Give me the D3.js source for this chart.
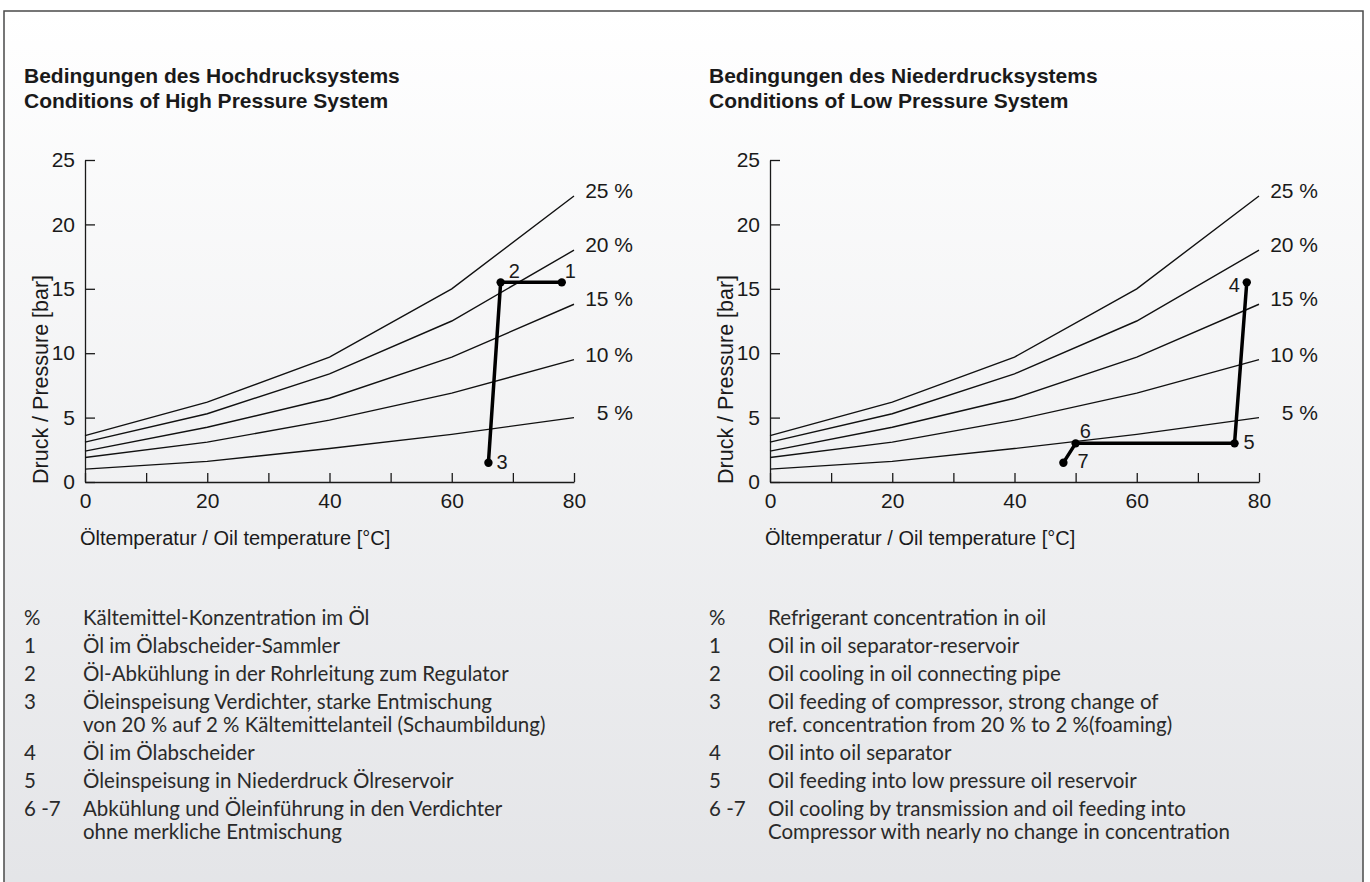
<!DOCTYPE html>
<html>
<head>
<meta charset="utf-8">
<script src="https://cdn.jsdelivr.net/npm/d3@7"></script>
<style>
    body { margin: 0; background: #ffffff; }
    svg { display: block; }
    .axis path, .axis line { stroke: #1a1a1a; stroke-width: 1.3; }
    .axis text { font-family: "Liberation Sans", Arial, sans-serif; font-size: 21px; fill: #1a1a1a; }
</style>
</head>
<body>
<div id="chart"></div>
<script>
// oil temperature steps and the refrigerant curves (bar)
var temps = [0, 20, 40, 60, 80];
var concLabels = ["5 %", "10 %", "15 %", "20 %", "25 %"];
var p05 = [1.0, 1.6, 2.6, 3.7, 5.0];
var p10 = [1.9, 3.1, 4.8, 6.9, 9.5];
var p15 = [2.4, 4.25, 6.5, 9.7, 13.8];
var p20 = [3.1, 5.3, 8.4, 12.5, 18.0];
var p25 = [3.6, 6.2, 9.7, 15.0, 22.2];

var xTicks = [0, 10, 20, 30, 40, 50, 60, 70, 80];
var yTicks = [0, 5, 10, 15, 20, 25];

// process paths
var hpIds = ["1", "2", "3"];
var hpTemp = [78, 68, 66];
var hpPress = [15.5, 15.5, 1.5];

var lpIds = ["4", "5", "6", "7"];
var lpTemp = [78, 76, 50, 48];
var lpPress = [15.5, 3.0, 3.0, 1.5];

var titlesLeft = ["Bedingungen des Hochdrucksystems", "Conditions of High Pressure System"];
var titlesRight = ["Bedingungen des Niederdrucksystems", "Conditions of Low Pressure System"];

var legendKeys = ["%", "1", "2", "3", "4", "5", "6 -7"];
var legendDe = [
    ["Kältemittel-Konzentration im Öl"],
    ["Öl im Ölabscheider-Sammler"],
    ["Öl-Abkühlung in der Rohrleitung zum Regulator"],
    ["Öleinspeisung Verdichter, starke Entmischung", "von 20 % auf 2 % Kältemittelanteil (Schaumbildung)"],
    ["Öl im Ölabscheider"],
    ["Öleinspeisung in Niederdruck Ölreservoir"],
    ["Abkühlung und Öleinführung in den Verdichter", "ohne merkliche Entmischung"]
];
var legendEn = [
    ["Refrigerant concentration in oil"],
    ["Oil in oil separator-reservoir"],
    ["Oil cooling in oil connecting pipe"],
    ["Oil feeding of compressor, strong change of", "ref. concentration from 20 % to 2 %(foaming)"],
    ["Oil into oil separator"],
    ["Oil feeding into low pressure oil reservoir"],
    ["Oil cooling by transmission and oil feeding into", "Compressor with nearly no change in concentration"]
];

var xTitle = "Öltemperatur / Oil temperature [°C]";
var yTitle = "Druck / Pressure [bar]";

var op = op || {};

op.init = function () {
    var svg = d3.select("#chart").append("svg")
        .attr("width", 1370)
        .attr("height", 882);

    var grad = svg.append("defs").append("linearGradient")
        .attr("id", "bg")
        .attr("x1", 0).attr("y1", 0).attr("x2", 0).attr("y2", 1);
    grad.append("stop").attr("offset", "0%").attr("stop-color", "#ffffff");
    grad.append("stop").attr("offset", "100%").attr("stop-color", "#e3e4e7");

    svg.append("rect")
        .attr("x", 4).attr("y", 11)
        .attr("width", 1359).attr("height", 900)
        .attr("fill", "url(#bg)")
        .attr("stroke", "#4a4a4a")
        .attr("stroke-width", 1.5);

    op.drawPanel(svg, 0, titlesLeft, hpIds, hpTemp, hpPress, legendDe);
    op.drawPanel(svg, 685, titlesRight, lpIds, lpTemp, lpPress, legendEn);
};

op.drawPanel = function (svg, dx, titles, ids, pt, pp, legend) {
    var g = svg.append("g").attr("transform", "translate(" + dx + ",0)");

    // two-line title as one text block
    g.append("text")
        .attr("class", "title")
        .attr("y", 83)
        .style("font-family", "'Liberation Sans', Arial, sans-serif")
        .style("font-weight", "bold")
        .style("font-size", "21px")
        .style("fill", "#1a1a1a")
        .selectAll("tspan")
        .data(titles)
        .enter()
        .append("tspan")
        .attr("x", 24)
        .attr("dy", function (d, i) { return i === 0 ? 0 : 24.5; })
        .text(function (d) { return d; });

    var x = d3.scaleLinear().domain([0, 80]).range([85, 574]);
    var y = d3.scaleLinear().domain([0, 25]).range([482, 160]);

    var xAxis = d3.axisBottom(x)
        .tickValues(xTicks)
        .tickSizeInner(-9)
        .tickSizeOuter(0)
        .tickPadding(11)
        .tickFormat(function (d) { return d % 20 === 0 ? d : ""; });

    var yAxis = d3.axisLeft(y)
        .tickValues(yTicks)
        .tickSizeInner(-10)
        .tickSizeOuter(0)
        .tickPadding(10);

    g.append("g")
        .attr("class", "axis")
        .attr("transform", "translate(0," + y(0) + ")")
        .call(xAxis);

    g.append("g")
        .attr("class", "axis")
        .attr("transform", "translate(" + x(0) + ",0)")
        .call(yAxis);

    g.append("text")
        .attr("x", 80)
        .attr("y", 545)
        .style("font-family", "'Liberation Sans', Arial, sans-serif")
        .style("font-size", "20px")
        .style("fill", "#1a1a1a")
        .text(xTitle);

    g.append("text")
        .attr("transform", "translate(48,484) rotate(-90)")
        .style("font-family", "'Liberation Sans', Arial, sans-serif")
        .style("font-size", "21.5px")
        .style("fill", "#1a1a1a")
        .text(yTitle);

    // concentration curves
    var curves = [p05, p10, p15, p20, p25];
    var line = d3.line()
        .x(function (d, i) { return x(temps[i]); })
        .y(function (d) { return y(d); });

    g.selectAll(".curve")
        .data(curves)
        .enter()
        .append("path")
        .attr("class", "curve")
        .attr("d", line)
        .attr("fill", "none")
        .attr("stroke", "#111")
        .attr("stroke-width", 1.4);

    g.selectAll(".curve-label")
        .data(curves)
        .enter()
        .append("text")
        .attr("class", "curve-label")
        .attr("x", x(80) + 59)
        .attr("y", function (d) { return y(d[d.length - 1]) + 2; })
        .attr("text-anchor", "end")
        .style("font-family", "'Liberation Sans', Arial, sans-serif")
        .style("font-size", "21px")
        .style("fill", "#1a1a1a")
        .text(function (d, i) { return concLabels[i]; });

    // process path
    var procLine = d3.line()
        .x(function (d, i) { return x(pt[i]); })
        .y(function (d, i) { return y(pp[i]); });

    g.append("path")
        .attr("d", procLine(ids))
        .attr("fill", "none")
        .attr("stroke", "#000")
        .attr("stroke-width", 3.5)
        .attr("stroke-linejoin", "round");

    g.selectAll(".dot")
        .data(ids)
        .enter()
        .append("circle")
        .attr("class", "dot")
        .attr("cx", function (d, i) { return x(pt[i]); })
        .attr("cy", function (d, i) { return y(pp[i]); })
        .attr("r", 4.2)
        .attr("fill", "#000");

    // where each number sits next to its point
    var offs = {
        "1": [3, -4, "start"], "2": [8, -4, "start"], "3": [8, 6, "start"],
        "4": [-7, 10, "end"], "5": [9, 6, "start"], "6": [4, -5, "start"], "7": [14, 5, "start"]
    };

    g.selectAll(".pt-label")
        .data(ids)
        .enter()
        .append("text")
        .attr("class", "pt-label")
        .attr("x", function (d, i) { return x(pt[i]) + offs[d][0]; })
        .attr("y", function (d, i) { return y(pp[i]) + offs[d][1]; })
        .attr("text-anchor", function (d) { return offs[d][2]; })
        .style("font-family", "'Liberation Sans', Arial, sans-serif")
        .style("font-size", "20px")
        .style("fill", "#1a1a1a")
        .text(function (d) { return d; });

    // legend
    var ly = 625;
    legend.forEach(function (lines, i) {
        g.append("text")
            .attr("x", 24)
            .attr("y", ly)
            .style("font-family", "Lato, 'Open Sans', sans-serif")
            .style("font-size", "20.5px")
            .style("fill", "#2a2a2a")
            .text(legendKeys[i]);
        g.append("text")
            .attr("y", ly)
            .style("font-family", "Lato, 'Open Sans', sans-serif")
            .style("font-size", "20.5px")
            .style("fill", "#2a2a2a")
            .selectAll("tspan")
            .data(lines)
            .enter()
            .append("tspan")
            .attr("x", 83)
            .attr("dy", function (d, j) { return j === 0 ? 0 : 23; })
            .text(function (d) { return d; });
        ly += 28 + (lines.length - 1) * 23;
    });
};

op.init();
</script>
</body>
</html>
